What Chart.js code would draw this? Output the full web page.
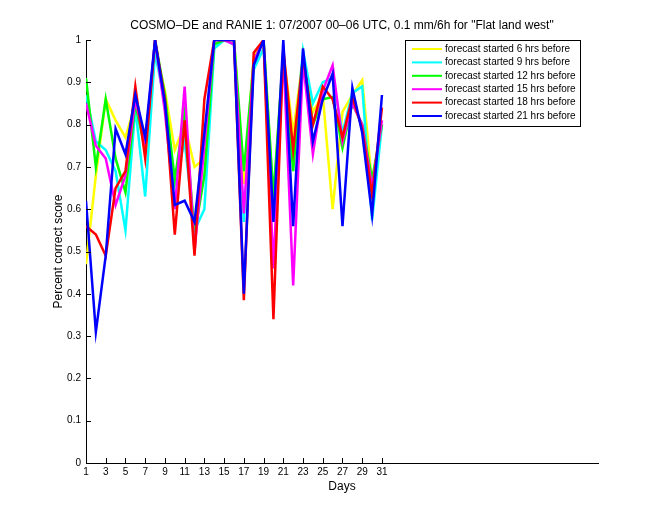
<!DOCTYPE html>
<html>
<head>
<meta charset="utf-8">
<script src="https://cdn.jsdelivr.net/npm/chart.js@4"></script>
<style>
  html, body { margin: 0; padding: 0; background: #fff; }
  #wrap { width: 660px; height: 520px; }
</style>
</head>
<body>
<div id="wrap"><canvas id="grafico" width="660" height="520"></canvas></div>
<script>
// dados
const days = [1,2,3,4,5,6,7,8,9,10,11,12,13,14,15,16,17,18,19,20,21,22,23,24,25,26,27,28,29,30,31]
const xTickLabels = [1,3,5,7,9,11,13,15,17,19,21,23,25,27,29,31]
const yTickLabels = [0,0.1,0.2,0.3,0.4,0.5,0.6,0.7,0.8,0.9,1]

const hrs6  = [0.47,0.68,0.86,0.81,0.77,0.85,0.76,0.98,0.88,0.74,0.80,0.70,0.72,1.00,1.00,1.00,0.66,0.96,1.00,0.62,0.97,0.78,0.96,0.83,0.87,0.60,0.83,0.87,0.905,0.66,0.80]
const hrs9  = [0.87,0.76,0.74,0.69,0.55,0.84,0.63,0.97,0.85,0.66,0.76,0.55,0.60,0.98,1.00,0.99,0.57,0.93,0.98,0.60,0.96,0.72,0.975,0.85,0.90,0.91,0.78,0.875,0.89,0.574,0.80]
const hrs12 = [0.91,0.70,0.86,0.72,0.64,0.85,0.74,1.00,0.87,0.67,0.83,0.54,0.68,0.99,1.00,1.00,0.69,0.95,1.00,0.63,0.97,0.69,0.96,0.80,0.86,0.865,0.745,0.85,0.80,0.67,0.80]
const hrs15 = [0.85,0.75,0.72,0.61,0.68,0.86,0.75,1.00,0.83,0.60,0.89,0.50,0.75,1.00,1.00,0.99,0.59,0.95,1.00,0.46,0.97,0.42,0.95,0.73,0.88,0.94,0.76,0.85,0.80,0.65,0.81]
const hrs18 = [0.56,0.54,0.49,0.65,0.69,0.89,0.72,1.00,0.86,0.54,0.81,0.49,0.86,1.00,1.00,1.00,0.385,0.97,1.00,0.34,0.98,0.74,0.96,0.80,0.89,0.86,0.77,0.865,0.79,0.633,0.84]
const hrs21 = [0.62,0.31,0.49,0.79,0.73,0.87,0.77,1.00,0.85,0.61,0.62,0.57,0.78,1.00,1.00,1.00,0.40,0.94,1.00,0.57,1.00,0.56,0.98,0.76,0.86,0.92,0.56,0.887,0.78,0.586,0.87]

const series = [
    {label: "forecast started 6 hrs before",  values: hrs6,  color: "#ffff00"},
    {label: "forecast started 9 hrs before",  values: hrs9,  color: "#00ffff"},
    {label: "forecast started 12 hrs before", values: hrs12, color: "#00ff00"},
    {label: "forecast started 15 hrs before", values: hrs15, color: "#ff00ff"},
    {label: "forecast started 18 hrs before", values: hrs18, color: "#ff0000"},
    {label: "forecast started 21 hrs before", values: hrs21, color: "#0000ff"}
]

const titulo = "COSMO\u2013DE and RANIE 1: 07/2007 00\u201306 UTC, 0.1 mm/6h for \"Flat land west\""
const fonte  = "'Liberation Sans', Arial, Helvetica, sans-serif"

// eixos no estilo matlab: ticks para dentro, titulo, rotulos e legenda
const matlabAxes = {
    id: "matlabAxes",
    afterDraw(chart) {
        const ctx  = chart.ctx
        const area = chart.chartArea
        const sx   = chart.scales.x
        const sy   = chart.scales.y
        ctx.save()
        ctx.strokeStyle = "#000"
        ctx.lineWidth = 1
        ctx.beginPath()
        yTickLabels.forEach((v) => {
            const py = Math.round(sy.getPixelForValue(v)) + 0.5
            ctx.moveTo(area.left, py)
            ctx.lineTo(area.left + 5, py)
        })
        xTickLabels.forEach((v) => {
            const px = Math.round(sx.getPixelForValue(v)) + 0.5
            ctx.moveTo(px, area.bottom)
            ctx.lineTo(px, area.bottom - 5)
        })
        ctx.stroke()

        ctx.fillStyle = "#000"
        ctx.textAlign = "center"
        ctx.textBaseline = "alphabetic"
        ctx.font = "12px " + fonte
        ctx.fillText(titulo, (area.left + area.right) / 2, 29)
        ctx.fillText("Days", (area.left + area.right) / 2, 490)

        ctx.save()
        ctx.translate(62, (area.top + area.bottom) / 2)
        ctx.rotate(-Math.PI / 2)
        ctx.fillText("Percent correct score", 0, 0)
        ctx.restore()

        // legenda
        const lx = 405, ly = 40, lw = 175, lh = 86
        ctx.fillStyle = "#fff"
        ctx.fillRect(lx, ly, lw, lh)
        ctx.strokeRect(lx + 0.5, ly + 0.5, lw, lh)
        ctx.font = "10px " + fonte
        ctx.textAlign = "left"
        ctx.textBaseline = "middle"
        chart.data.datasets.forEach((ds, i) => {
            const rowY = ly + 9 + i * 13.4
            ctx.strokeStyle = ds.borderColor
            ctx.lineWidth = 2
            ctx.beginPath()
            ctx.moveTo(lx + 7, rowY)
            ctx.lineTo(lx + 37, rowY)
            ctx.stroke()
            ctx.fillStyle = "#000"
            ctx.fillText(ds.label, lx + 40, rowY)
        })
        ctx.restore()
    }
}

const datasets = series.map((s, index) => ({
    label: s.label,
    data: days.map((d, i) => ({x: d, y: s.values[i]})),
    borderColor: s.color,
    backgroundColor: s.color,
    borderWidth: 2.5,
    pointRadius: 0,
    tension: 0,
    fill: false,
    order: series.length - index
}))

const config = {
    type: "line",
    data: { datasets: datasets },
    options: {
        responsive: false,
        animation: false,
        events: [],
        layout: { padding: { top: 40, right: 62, left: 0, bottom: 0 } },
        plugins: { legend: { display: false }, title: { display: false }, tooltip: { enabled: false } },
        scales: {
            x: {
                type: "linear",
                min: 1,
                max: 52.9,
                afterBuildTicks: (scale) => { scale.ticks = xTickLabels.map((v) => ({value: v})) },
                afterFit: (scale) => { scale.height = 57 },
                grid: { display: true, drawOnChartArea: false, drawTicks: false },
                border: { display: true, color: "#000", width: 1 },
                ticks: { color: "#000", padding: 3, maxRotation: 0, autoSkip: false, font: { family: fonte, size: 10 } }
            },
            y: {
                type: "linear",
                min: 0,
                max: 1,
                afterBuildTicks: (scale) => { scale.ticks = yTickLabels.map((v) => ({value: v})) },
                afterFit: (scale) => { scale.width = 86 },
                grid: { display: true, drawOnChartArea: false, drawTicks: false },
                border: { display: true, color: "#000", width: 1 },
                ticks: { color: "#000", padding: 5, font: { family: fonte, size: 10 }, callback: (v) => String(v) }
            }
        }
    },
    plugins: [matlabAxes]
}

new Chart(document.getElementById("grafico"), config)
</script>
</body>
</html>
